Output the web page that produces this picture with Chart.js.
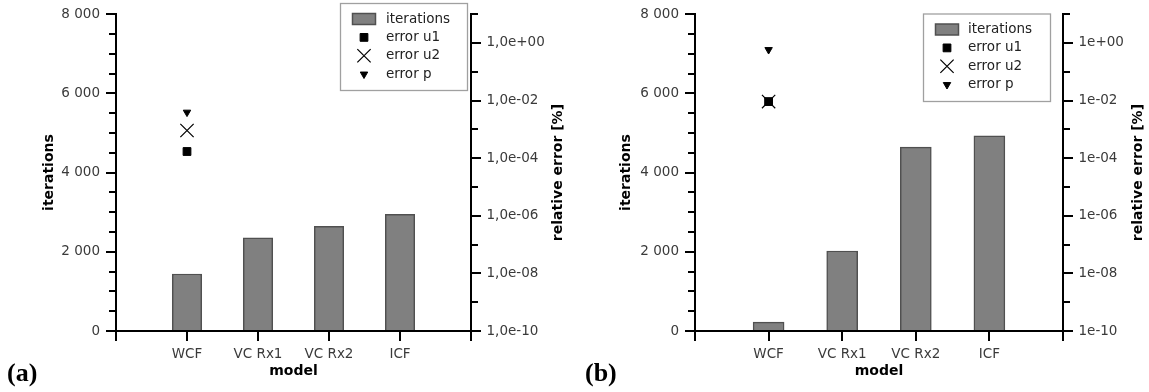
<!DOCTYPE html>
<html>
<head>
<meta charset="utf-8">
<script src="https://cdn.jsdelivr.net/npm/chart.js@4.4.0/dist/chart.umd.min.js"></script>
<style>
  body { margin: 0; background: #fff; width: 1149px; height: 392px; position: relative; overflow: hidden; }
  .box { position: absolute; top: 0; height: 392px; }
  .tag { position: absolute; top: 358px; font: bold 26px "Liberation Serif", "Times New Roman", serif; color: #000; line-height: 30px; }
</style>
</head>
<body>
<div class="box" style="left:0;width:574px"><canvas id="chartA"></canvas></div>
<div class="box" style="left:574px;width:575px"><canvas id="chartB"></canvas></div>
<div class="tag" style="left:7px">(a)</div>
<div class="tag" style="left:585px">(b)</div>
<script>
// categories (blank slots at both ends of the axis)
var models = ['', 'WCF', 'VC Rx1', 'VC Rx2', 'ICF', ''];

// (a)
var iterA  = [null, 1440, 2350, 2640, 2945, null];
var errU1A = [null, 1.7e-4, null, null, null, null];
var errU2A = [null, 9.1e-4, null, null, null, null];
var errPA  = [null, 3.9e-3, null, null, null, null];

// (b)
var iterB  = [null, 225, 2020, 4640, 4930, null];
var errU1B = [null, 9.2e-3, null, null, null, null];
var errU2B = [null, 9.2e-3, null, null, null, null];
var errPB  = [null, 0.58, null, null, null, null];

// axis ticks
var iterTicks = [0, 2000, 4000, 6000, 8000];
var iterMinor = [500, 1000, 1500, 2500, 3000, 3500, 4500, 5000, 5500, 6500, 7000, 7500];
var errExp = [-10, -8, -6, -4, -2, 0];
var errMinorExp = [-9, -7, -5, -3, -1, 1];

Chart.defaults.font.family = '"DejaVu Sans", sans-serif';
Chart.defaults.font.size = 13.5;
Chart.defaults.color = '#3a3a3a';

function thousands(v) {
  return String(v).replace(/\B(?=(\d{3})+(?!\d))/g, ' ');
}
function expLabel(e, style) {
  var s = (e < 0 ? '-' : '+') + (Math.abs(e) < 10 ? '0' : '') + Math.abs(e);
  return style === 'a' ? '1,0e' + s : '1e' + s;
}

var minorTicks = {
  id: 'minorTicks',
  afterDraw: function(chart) {
    var ctx = chart.ctx, y = chart.scales.y, y2 = chart.scales.y2;
    ctx.save();
    ctx.strokeStyle = '#000';
    ctx.lineWidth = 2;
    ctx.beginPath();
    iterMinor.forEach(function(v) {
      var p = Math.round(y.getPixelForValue(v));
      ctx.moveTo(y.right - 7, p); ctx.lineTo(y.right, p);
    });
    errMinorExp.forEach(function(e) {
      var p = Math.round(y2.getPixelForValue(Math.pow(10, e)));
      ctx.moveTo(y2.left, p); ctx.lineTo(y2.left + 7, p);
    });
    ctx.stroke();
    ctx.restore();
  }
};

var sideTitle = {
  id: 'sideTitle',
  afterDraw: function(chart, args, o) {
    var ctx = chart.ctx, a = chart.chartArea;
    ctx.save();
    ctx.translate(o.x, (a.top + a.bottom) / 2);
    ctx.rotate(-Math.PI / 2);
    ctx.font = 'bold 14px "DejaVu Sans", sans-serif';
    ctx.fillStyle = '#000';
    ctx.textAlign = 'center';
    ctx.textBaseline = 'middle';
    ctx.fillText(o.text, 0, 0);
    ctx.restore();
  }
};

var boxLegend = {
  id: 'boxLegend',
  afterDraw: function(chart, args, o) {
    var ctx = chart.ctx;
    ctx.save();
    ctx.fillStyle = '#fff';
    ctx.fillRect(o.x, o.y, o.w, o.h);
    ctx.strokeStyle = '#a0a0a0';
    ctx.lineWidth = 1.3;
    ctx.strokeRect(o.x + 0.5, o.y + 0.5, o.w, o.h);
    chart.data.datasets.forEach(function(ds, i) {
      var cy = o.y + 16 + i * 18.4;
      if (ds.type === 'bar') {
        ctx.fillStyle = ds.backgroundColor;
        ctx.fillRect(o.sx - 11.5, cy - 5.5, 23, 11);
        ctx.strokeStyle = ds.borderColor;
        ctx.lineWidth = 1.5;
        ctx.strokeRect(o.sx - 11.5, cy - 5.5, 23, 11);
      } else {
        ctx.fillStyle = ds.backgroundColor;
        ctx.strokeStyle = ds.borderColor;
        ctx.lineWidth = ds.borderWidth;
        Chart.helpers.drawPoint(ctx, {
          pointStyle: ds.pointStyle, radius: ds.pointRadius,
          rotation: ds.pointRotation || 0, borderWidth: ds.borderWidth
        }, o.sx, cy);
      }
      ctx.fillStyle = '#222';
      ctx.font = '13.5px "DejaVu Sans", sans-serif';
      ctx.textAlign = 'left';
      ctx.textBaseline = 'middle';
      ctx.fillText(ds.label, o.tx, cy);
    });
    ctx.restore();
  }
};

function makeChart(id, d) {
  return new Chart(document.getElementById(id), {
    type: 'bar',
    data: {
      labels: models,
      datasets: [
        { type: 'bar', label: 'iterations', data: d.iter, yAxisID: 'y',
          backgroundColor: '#808080', borderColor: '#505050', borderWidth: 1.5,
          barThickness: d.barW, order: 2 },
        { type: 'line', label: 'error u1', data: d.u1, yAxisID: 'y2', showLine: false,
          pointStyle: 'rect', pointRadius: 5.5, backgroundColor: '#000', borderColor: '#000',
          borderWidth: 1, order: 1 },
        { type: 'line', label: 'error u2', data: d.u2, yAxisID: 'y2', showLine: false,
          pointStyle: 'crossRot', pointRadius: 9.4, backgroundColor: '#000', borderColor: '#000',
          borderWidth: 1.2, order: 1 },
        { type: 'line', label: 'error p', data: d.p, yAxisID: 'y2', showLine: false,
          pointStyle: 'triangle', pointRotation: 180, pointRadius: 4.3, backgroundColor: '#000',
          borderColor: '#000', borderWidth: 1, order: 1 }
      ]
    },
    options: {
      responsive: true,
      maintainAspectRatio: false,
      animation: false,
      events: [],
      layout: { padding: { top: 13, left: 0, right: 0, bottom: 0 } },
      plugins: {
        legend: { display: false },
        tooltip: { enabled: false },
        boxLegend: d.legend,
        sideTitle: { text: 'relative error [%]', x: d.rightTitleX }
      },
      scales: {
        x: {
          type: 'category', offset: false,
          afterFit: function(s) { s.height = 61; },
          ticks: { autoSkip: false, maxRotation: 0, padding: 5 },
          grid: { offset: false, drawOnChartArea: false, tickLength: 10, color: '#000', lineWidth: 2 },
          border: { color: '#000', width: 2 },
          title: { display: true, text: 'model', color: '#000',
                   font: { weight: 'bold', size: 14 }, padding: { top: 0, bottom: 12 } }
        },
        y: {
          position: 'left', min: 0, max: 8000,
          afterFit: function(s) { s.width = d.leftW; },
          afterBuildTicks: function(s) { s.ticks = iterTicks.map(function(v) { return { value: v }; }); },
          ticks: { autoSkip: false, padding: 6, callback: function(v) { return thousands(v); } },
          grid: { drawOnChartArea: false, tickLength: 10, color: '#000', lineWidth: 2 },
          border: { color: '#000', width: 2 },
          title: { display: true, text: 'iterations', color: '#000',
                   font: { weight: 'bold', size: 14 }, padding: { top: d.leftTitleX - 8.4 } }
        },
        y2: {
          type: 'logarithmic', position: 'right', min: 1e-10, max: 1e1,
          afterFit: function(s) { s.width = d.rightW; },
          afterBuildTicks: function(s) { s.ticks = errExp.map(function(e) { return { value: Math.pow(10, e) }; }); },
          ticks: { autoSkip: false, padding: 5.5,
                   callback: function(v) { return expLabel(Math.round(Math.log10(v)), d.fmt); } },
          grid: { drawOnChartArea: false, tickLength: 10, color: '#000', lineWidth: 2 },
          border: { color: '#000', width: 2 }
        }
      }
    },
    plugins: [minorTicks, sideTitle, boxLegend]
  });
}

makeChart('chartA', {
  iter: iterA, u1: errU1A, u2: errU2A, p: errPA,
  barW: 29.5, leftW: 116, rightW: 103, leftTitleX: 49, rightTitleX: 558, fmt: 'a',
  legend: { x: 340, y: 3, w: 127, h: 87, sx: 364, tx: 386 }
});

makeChart('chartB', {
  iter: iterB, u1: errU1B, u2: errU2B, p: errPB,
  barW: 31, leftW: 121, rightW: 86, leftTitleX: 52, rightTitleX: 564, fmt: 'b',
  legend: { x: 349, y: 13.5, w: 127, h: 87.5, sx: 373, tx: 394 }
});
</script>
</body>
</html>
